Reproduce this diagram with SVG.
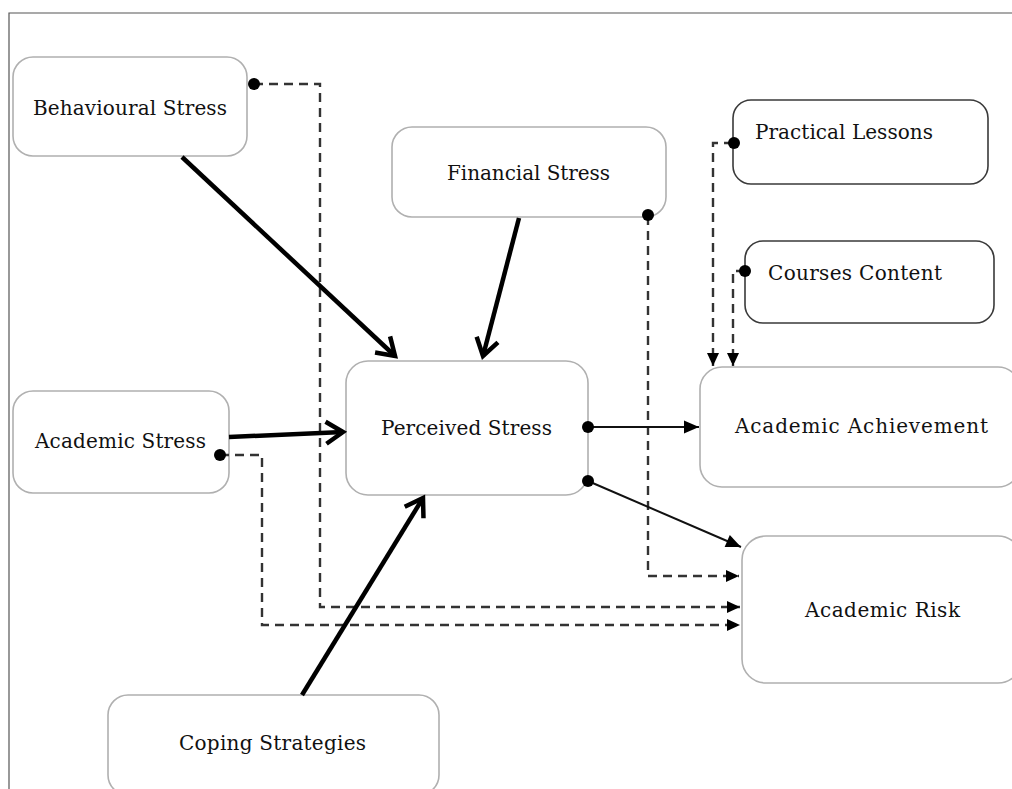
<svg xmlns="http://www.w3.org/2000/svg" width="1012" height="789" viewBox="0 0 1012 789">
<style>
.box{fill:#fff;stroke:#b0b0b0;stroke-width:1.6}
.box2{fill:#fff;stroke:#3a3a3a;stroke-width:1.6}
.lbl{font-family:"DejaVu Serif","Liberation Serif",serif;font-size:20px;fill:#111;text-anchor:middle}
.thick{stroke:#000;stroke-width:4.5;fill:none;marker-end:url(#chev)}
.thin{stroke:#111;stroke-width:2;fill:none;marker-end:url(#tri)}
.dash{stroke:#333;stroke-width:2.4;fill:none;stroke-dasharray:9 6;marker-end:url(#tri2)}
.dot{fill:#000}
</style>
<defs>
<marker id="chev" markerUnits="userSpaceOnUse" viewBox="-22 -16 26 32" markerWidth="26" markerHeight="32" refX="0" refY="0" orient="auto" overflow="visible">
<path d="M-17,-11 L0,0 L-17,11" fill="none" stroke="#000" stroke-width="4.5" stroke-linejoin="miter"/>
</marker>
<marker id="tri" markerUnits="userSpaceOnUse" viewBox="-16 -8 17 16" markerWidth="17" markerHeight="16" refX="0" refY="0" orient="auto">
<path d="M-15,-6.5 L0,0 L-15,6.5 Z" fill="#000"/>
</marker>
<marker id="tri2" markerUnits="userSpaceOnUse" viewBox="-14 -7 15 14" markerWidth="15" markerHeight="14" refX="0" refY="0" orient="auto">
<path d="M-13,-6 L0,0 L-13,6 Z" fill="#000"/>
</marker>
</defs>
<rect width="1012" height="789" fill="#fff"/>
<path d="M9,789 V13 H1012" fill="none" stroke="#555" stroke-width="1.2"/>

<g id="behavioural-stress"><rect class="box" x="13" y="57" width="234" height="99" rx="20"/><text class="lbl" x="130" y="115" textLength="194">Behavioural Stress</text></g>
<g id="financial-stress"><rect class="box" x="392" y="127" width="274" height="90" rx="20"/><text class="lbl" x="528.5" y="180" textLength="163">Financial Stress</text></g>
<g id="practical-lessons"><rect class="box2" x="733" y="100" width="255" height="84" rx="18"/><text class="lbl" x="844" y="139" textLength="178">Practical Lessons</text></g>
<g id="courses-content"><rect class="box2" x="745" y="241" width="249" height="82" rx="18"/><text class="lbl" x="855" y="280" textLength="174">Courses Content</text></g>
<g id="perceived-stress"><rect class="box" x="346" y="361" width="242" height="134" rx="22"/><text class="lbl" x="466.5" y="435" textLength="171">Perceived Stress</text></g>
<g id="academic-stress"><rect class="box" x="13" y="391" width="216" height="102" rx="20"/><text class="lbl" x="120.5" y="448" textLength="171">Academic Stress</text></g>
<g id="academic-achievement"><rect class="box" x="700" y="367" width="320" height="120" rx="22"/><text class="lbl" x="861.5" y="433" textLength="253">Academic Achievement</text></g>
<g id="academic-risk"><rect class="box" x="742" y="536" width="280" height="147" rx="24"/><text class="lbl" x="882.5" y="617" textLength="155">Academic Risk</text></g>
<g id="coping-strategies"><rect class="box" x="108" y="695" width="331" height="100" rx="20"/><text class="lbl" x="272.5" y="750" textLength="187">Coping Strategies</text></g>

<g id="connectors">
<path class="dash" d="M254,84 H320 V607 H740"/>
<path class="dash" d="M220,455 H262 V625 H740"/>
<path class="dash" d="M648,216 V576 H739"/>
<path class="dash" d="M733,143 H713 V366"/>
<path class="dash" d="M745,271 H733 V366"/>
<path class="thick" d="M182,157 L395,356"/>
<path class="thick" d="M519,218 L483,356"/>
<path class="thick" d="M229,437 L343,432"/>
<path class="thick" d="M302,695 L423,498"/>
<path class="thin" d="M588,427 H699"/>
<path class="thin" d="M588,481 L741,547"/>
<circle class="dot" cx="254" cy="84" r="6"/>
<circle class="dot" cx="220" cy="455" r="6"/>
<circle class="dot" cx="648" cy="215" r="6"/>
<circle class="dot" cx="734" cy="143" r="6"/>
<circle class="dot" cx="745" cy="271" r="6"/>
<circle class="dot" cx="588" cy="427" r="6"/>
<circle class="dot" cx="588" cy="481" r="6"/>
</g>
</svg>
